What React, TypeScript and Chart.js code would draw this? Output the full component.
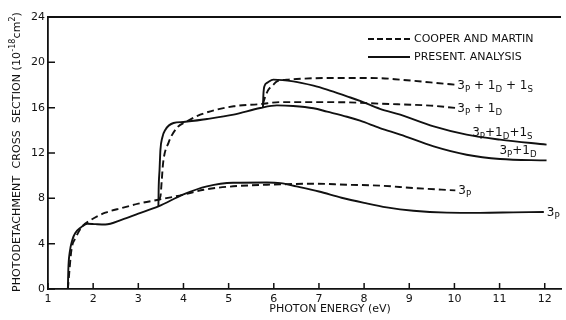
import { useEffect, useRef } from "react";
import { Chart, registerables } from "chart.js";

Chart.register(...registerables);

// ---------- data ----------
const xTickValues = [1, 1.44, 2, 3, 4, 5, 6, 7, 8, 9, 10, 11, 12];
const xTickLabels = ["1", "", "2", "3", "4", "5", "6", "7", "8", "9", "10", "11", "12"];
const yTickValues = [0, 4, 8, 12, 16, 20, 24];

// Present analysis (solid)
const present3P_E = [1.44, 1.45, 1.48, 1.54, 1.61, 1.72, 1.87, 2.05, 2.27, 2.64, 3.0, 3.445, 4.0, 4.52, 5.1, 5.85, 6.15, 6.5, 7.0, 7.5, 8.0, 8.5, 9.09, 9.83, 10.57, 11.3, 11.98];
const present3P_S = [0, 1.7, 3.2, 4.35, 4.97, 5.41, 5.76, 5.72, 5.69, 6.12, 6.65, 7.29, 8.35, 9.06, 9.38, 9.4, 9.34, 9.05, 8.6, 8.05, 7.6, 7.2, 6.9, 6.74, 6.72, 6.76, 6.8];

const present3P1D_E = [3.445, 3.45, 3.47, 3.49, 3.53, 3.6, 3.78, 4.0, 4.52, 5.11, 5.7, 6.07, 6.43, 6.88, 7.18, 7.62, 7.91, 8.35, 8.8, 9.54, 10.27, 11.01, 12.04];
const present3P1D_S = [7.29, 8.76, 10.5, 12.3, 13.35, 14.06, 14.65, 14.74, 15.0, 15.38, 15.97, 16.2, 16.15, 15.95, 15.65, 15.2, 14.85, 14.2, 13.62, 12.59, 11.85, 11.47, 11.35];

const present3P1D1S_E = [5.76, 5.77, 5.79, 5.86, 5.99, 6.43, 6.88, 7.18, 7.62, 7.91, 8.35, 8.8, 9.54, 10.27, 11.01, 12.04];
const present3P1D1S_S = [16.03, 17.15, 17.86, 18.21, 18.47, 18.32, 17.94, 17.59, 17.0, 16.6, 15.9, 15.38, 14.35, 13.62, 13.18, 12.74];

// Cooper and Martin (dashed)
const cooper3P_E = [1.44, 1.52, 1.61, 1.76, 1.9, 2.27, 2.64, 3.0, 3.445, 4.0, 4.45, 5.1, 5.85, 6.3, 6.87, 7.62, 8.36, 9.09, 10.02];
const cooper3P_S = [0, 3.47, 4.5, 5.53, 5.97, 6.73, 7.15, 7.53, 7.88, 8.32, 8.76, 9.06, 9.2, 9.25, 9.29, 9.2, 9.12, 8.91, 8.7];

const cooper3P1D_E = [3.445, 3.49, 3.52, 3.55, 3.67, 3.86, 4.08, 4.37, 5.11, 5.7, 6.14, 6.87, 7.62, 8.36, 9.47, 10.02];
const cooper3P1D_S = [7.88, 8.17, 9.65, 11.15, 12.91, 14.24, 14.79, 15.38, 16.12, 16.31, 16.49, 16.49, 16.47, 16.35, 16.18, 15.98];

const cooper3P1D1S_E = [5.76, 5.81, 5.88, 5.97, 6.07, 6.29, 6.65, 7.25, 7.76, 8.36, 8.8, 9.47, 10.02];
const cooper3P1D1S_S = [16.35, 16.97, 17.59, 17.94, 18.32, 18.47, 18.56, 18.62, 18.62, 18.6, 18.47, 18.23, 18.03];

const legendLabels = ["COOPER AND MARTIN", "PRESENT. ANALYSIS"];
const xTitle = "PHOTON ENERGY (eV)";
const yTitleParts = ["PHOTODETACHMENT  CROSS  SECTION (10", "-18", "cm", "2", ")"];

type Part = [string, string];
const label3P: Part[] = [["3", "P"]];
const label3P1D: Part[] = [["3", "P"], [" + 1", "D"]];
const label3P1D1S: Part[] = [["3", "P"], [" + 1", "D"], [" + 1", "S"]];
const label3P1Dtight: Part[] = [["3", "P"], ["+1", "D"]];
const label3P1D1Stight: Part[] = [["3", "P"], ["+1", "D"], ["+1", "S"]];

const FONT = '"DejaVu Sans", "Liberation Sans", sans-serif';

function pts(xs: number[], ys: number[]) {
  return xs.map((x, i) => ({ x, y: ys[i] }));
}

function drawParts(ctx: CanvasRenderingContext2D, parts: Part[], x: number, y: number, align: "left" | "right", size: number) {
  const sub = size * 0.72;
  const widths = parts.map(([m, s]) => {
    ctx.font = `${size}px ${FONT}`;
    const a = ctx.measureText(m).width;
    ctx.font = `${sub}px ${FONT}`;
    const b = ctx.measureText(s).width;
    return [a, b];
  });
  const total = widths.reduce((t, w) => t + w[0] + w[1], 0);
  let cx = align === "right" ? x - total : x;
  ctx.textAlign = "left";
  ctx.textBaseline = "alphabetic";
  parts.forEach(([m, s], i) => {
    ctx.font = `${size}px ${FONT}`;
    ctx.fillText(m, cx, y);
    cx += widths[i][0];
    ctx.font = `${sub}px ${FONT}`;
    ctx.fillText(s, cx, y + 3);
    cx += widths[i][1];
  });
}

const decorPlugin = {
  id: "decor",
  afterDraw(chart: any) {
    const ctx: CanvasRenderingContext2D = chart.ctx;
    const { left, right, top, bottom } = chart.chartArea;
    const xs = chart.scales.x;
    const ys = chart.scales.y;
    ctx.save();
    ctx.strokeStyle = "#111";
    ctx.fillStyle = "#111";
    // top border
    ctx.lineWidth = 2;
    ctx.beginPath();
    ctx.moveTo(left, top);
    ctx.lineTo(right, top);
    ctx.stroke();
    // inner ticks
    ctx.lineWidth = 1.5;
    ctx.beginPath();
    xTickValues.forEach((v) => {
      const px = xs.getPixelForValue(v);
      ctx.moveTo(px, bottom);
      ctx.lineTo(px, bottom - 6);
    });
    yTickValues.forEach((v) => {
      const py = ys.getPixelForValue(v);
      ctx.moveTo(left, py);
      ctx.lineTo(left + 7, py);
    });
    ctx.stroke();

    // x title
    ctx.font = `11px ${FONT}`;
    ctx.textAlign = "center";
    ctx.textBaseline = "middle";
    ctx.fillText(xTitle, left + 282, 309);

    // y title (rotated with superscripts)
    ctx.save();
    ctx.translate(17, (top + bottom) / 2 - 1);
    ctx.rotate(-Math.PI / 2);
    const big = `11px ${FONT}`;
    const small = `8px ${FONT}`;
    const fonts = [big, small, big, small, big];
    const target = 280;
    let natural = 0;
    let chars = 0;
    yTitleParts.forEach((p, i) => {
      ctx.font = fonts[i];
      natural += ctx.measureText(p).width;
      chars += p.length;
    });
    const spacing = Math.max(0, (target - natural) / chars);
    (ctx as any).letterSpacing = `${spacing}px`;
    let total = 0;
    const ws = yTitleParts.map((p, i) => {
      ctx.font = fonts[i];
      const w = ctx.measureText(p).width;
      total += w;
      return w;
    });
    let cx = -total / 2;
    ctx.textAlign = "left";
    ctx.textBaseline = "middle";
    yTitleParts.forEach((p, i) => {
      ctx.font = fonts[i];
      ctx.fillText(p, cx, i % 2 === 1 ? -4 : 0);
      cx += ws[i];
    });
    ctx.restore();
    (ctx as any).letterSpacing = "0px";

    // legend
    const lx0 = left + 320;
    const lx1 = left + 362;
    ctx.lineWidth = 1.9;
    ctx.setLineDash([6, 3]);
    ctx.beginPath();
    ctx.moveTo(lx0, 39);
    ctx.lineTo(lx1, 39);
    ctx.stroke();
    ctx.setLineDash([]);
    ctx.beginPath();
    ctx.moveTo(lx0, 57);
    ctx.lineTo(lx1, 57);
    ctx.stroke();
    ctx.font = `11px ${FONT}`;
    ctx.textAlign = "left";
    ctx.textBaseline = "middle";
    ctx.fillText(legendLabels[0], lx1 + 4, 39);
    ctx.fillText(legendLabels[1], lx1 + 4, 57);

    // curve labels at series ends
    const endPx = (xsArr: number[], ysArr: number[]) => {
      const n = xsArr.length - 1;
      return [xs.getPixelForValue(xsArr[n]), ys.getPixelForValue(ysArr[n])];
    };
    let p = endPx(cooper3P1D1S_E, cooper3P1D1S_S);
    drawParts(ctx, label3P1D1S, p[0] + 2, p[1] + 4, "left", 12);
    p = endPx(cooper3P1D_E, cooper3P1D_S);
    drawParts(ctx, label3P1D, p[0] + 2, p[1] + 4, "left", 12);
    p = endPx(cooper3P_E, cooper3P_S);
    drawParts(ctx, label3P, p[0] + 3, p[1] + 4, "left", 12);
    p = endPx(present3P_E, present3P_S);
    drawParts(ctx, label3P, p[0] + 3, p[1] + 4, "left", 12);
    p = endPx(present3P1D1S_E, present3P1D1S_S);
    drawParts(ctx, label3P1D1Stight, p[0] - 14, p[1] - 9, "right", 12);
    p = endPx(present3P1D_E, present3P1D_S);
    drawParts(ctx, label3P1Dtight, p[0] - 10, p[1] - 6, "right", 12);
    ctx.restore();
  },
};

export default function App() {
  const ref = useRef<HTMLCanvasElement | null>(null);
  useEffect(() => {
    if (!ref.current) return;
    const solid = { borderColor: "#111", borderWidth: 1.9, pointRadius: 0, fill: false, cubicInterpolationMode: "monotone" as const };
    const dashed = { ...solid, borderDash: [7, 4] };
    const chart = new Chart(ref.current, {
      type: "line",
      data: {
        datasets: [
          { label: "present 3P", data: pts(present3P_E, present3P_S), ...solid },
          { label: "present 3P+1D", data: pts(present3P1D_E, present3P1D_S), ...solid },
          { label: "present 3P+1D+1S", data: pts(present3P1D1S_E, present3P1D1S_S), ...solid },
          { label: "cooper 3P", data: pts(cooper3P_E, cooper3P_S), ...dashed },
          { label: "cooper 3P+1D", data: pts(cooper3P1D_E, cooper3P1D_S), ...dashed },
          { label: "cooper 3P+1D+1S", data: pts(cooper3P1D1S_E, cooper3P1D1S_S), ...dashed },
        ],
      },
      options: {
        responsive: false,
        animation: false,
        layout: { padding: { left: 0, top: 17, right: 5, bottom: 0 } },
        plugins: { legend: { display: false }, tooltip: { enabled: false }, title: { display: false } },
        scales: {
          x: {
            type: "linear",
            min: 1,
            max: 12.36,
            afterBuildTicks: (s: any) => {
              s.ticks = xTickValues.map((v) => ({ value: v }));
            },
            afterFit: (s: any) => {
              s.height = 31;
            },
            ticks: {
              autoSkip: false,
              maxRotation: 0,
              padding: 4,
              color: "#111",
              font: { family: FONT, size: 11 },
              callback: (_v: any, i: number) => xTickLabels[i],
            },
            grid: { display: true, drawOnChartArea: false, drawTicks: false },
            border: { display: true, color: "#111", width: 1.8 },
          },
          y: {
            type: "linear",
            min: 0,
            max: 24,
            afterBuildTicks: (s: any) => {
              s.ticks = yTickValues.map((v) => ({ value: v }));
            },
            afterFit: (s: any) => {
              s.width = 48;
            },
            ticks: {
              padding: 3,
              color: "#111",
              font: { family: FONT, size: 11 },
            },
            grid: { display: true, drawOnChartArea: false, drawTicks: false },
            border: { display: true, color: "#111", width: 1.8 },
          },
        },
      },
      plugins: [decorPlugin],
    });
    return () => chart.destroy();
  }, []);
  return (
    <div style={{ position: "absolute", left: 0, top: 0, width: 566, height: 320, background: "#fff" }}>
      <canvas ref={ref} width={566} height={320} />
    </div>
  );
}
